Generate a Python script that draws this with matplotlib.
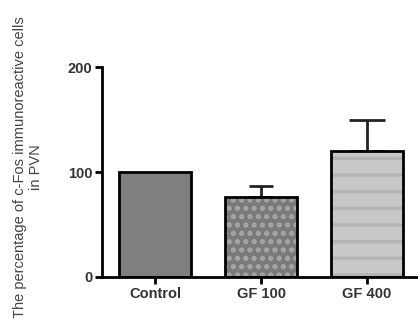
import matplotlib
matplotlib.use('Agg')
import matplotlib.pyplot as plt
from matplotlib import rcParams

rcParams['font.family'] = ['Liberation Sans', 'DejaVu Sans']
rcParams['axes.spines.top'] = False
rcParams['axes.spines.right'] = False
rcParams['hatch.linewidth'] = 2.5

groups = ['Control', 'GF 100', 'GF 400']
means = [100, 76, 120]
errors = [0, 11, 30]
fills = ['#7f7f7f', '#7a7a7a', '#c8c8c8']
hatch_colors = ['#7f7f7f', '#a8a8a8', '#b4b4b4']
hatches = ['', '..', '-']
cap_sizes = [0, 8.6, 13.3]

fig = plt.figure(figsize=(4.18, 3.34), dpi=100)
ax = fig.add_axes([0.244, 0.171, 0.756, 0.628])

x = list(range(len(groups)))
# fill + pattern first, then the black outline on top
ax.bar(x, means, width=0.68, color=fills, edgecolor=hatch_colors,
       hatch=hatches, linewidth=0, zorder=2)
ax.bar(x, means, width=0.68, fill=False, edgecolor='black', linewidth=2, zorder=3)
for xi, m, e, cs in zip(x, means, errors, cap_sizes):
    if e > 0:
        ax.errorbar(xi, m, yerr=[[0], [e]], fmt='none', ecolor='#222222',
                    elinewidth=2, capsize=cs, capthick=2, zorder=1)

ax.set_xlim(-0.5, 2.48)
ax.set_ylim(0, 200)
ax.set_yticks([0, 100, 200])
ax.set_xticks(x)
ax.set_xticklabels(groups)
for s in ['left', 'bottom']:
    ax.spines[s].set_linewidth(2)
ax.tick_params(axis='both', width=2, length=5, labelsize=10.5, pad=2)
for lab in ax.get_xticklabels() + ax.get_yticklabels():
    lab.set_fontweight('bold')
    lab.set_color('#333333')

fig.text(0.067, 0.5, 'The percentage of c-Fos immunoreactive cells\nin PVN',
         rotation=90, ha='center', va='center', fontsize=10.5,
         color='#444444', linespacing=1.25)

fig.savefig('out.png', dpi=100)
